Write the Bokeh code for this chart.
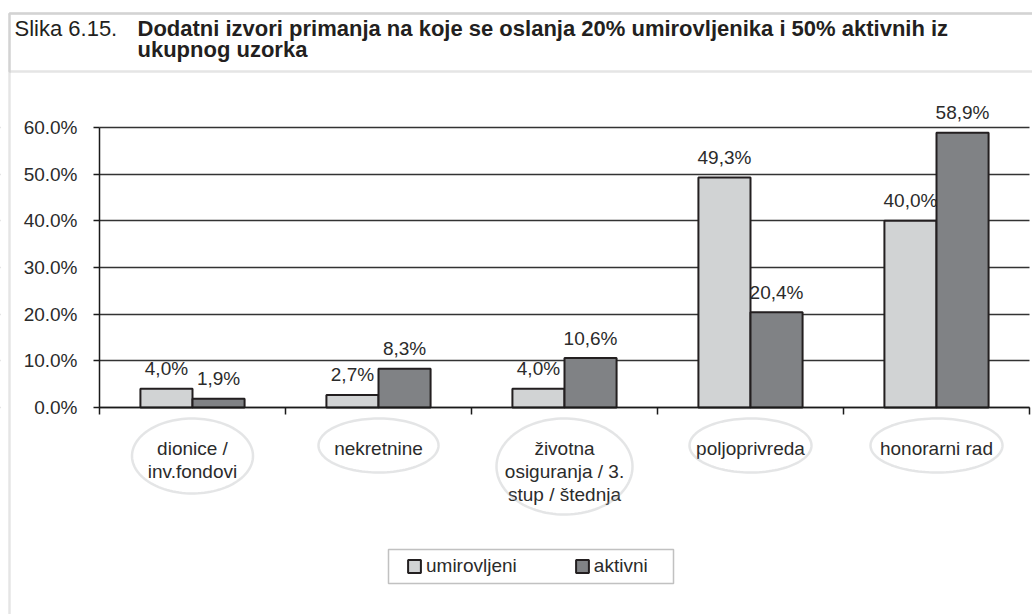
import numpy as np
from bokeh.plotting import figure
from bokeh.models import (Range1d, FixedTicker, CustomJSTickFormatter, BoxAnnotation,
                          ColumnDataSource, Label, PolyAnnotation, Legend, LegendItem)
from bokeh.transform import dodge
from bokeh.embed import file_html
from bokeh.resources import INLINE
from bokeh.core.properties import value

# ---------------- data ----------------
categories = ["dionice /\ninv.fondovi", "nekretnine", "životna\nosiguranja / 3.\nstup / štednja",
              "poljoprivreda", "honorarni rad"]
umirovljeni = [4.0, 2.7, 4.0, 49.3, 40.0]
aktivni = [1.9, 8.3, 10.6, 20.4, 58.9]
series_names = ["umirovljeni", "aktivni"]
y_ticks = [0, 10, 20, 30, 40, 50, 60]
title_prefix = "Slika 6.15."
title_lines = ["Dodatni izvori primanja na koje se oslanja 20% umirovljenika i 50% aktivnih iz",
               "ukupnog uzorka"]

# ---------------- layout constants (page pixels) ----------------
FONT = "Liberation Sans"
W, H = 1032, 614
F_LEFT, F_RIGHT = 99, 1029   # x pixel of the plot area left/right
F_ZERO, F_SIXTY = 407, 127   # y pixel of 0% and 60%
NC = len(categories)
PX = 60.0 / (F_ZERO - F_SIXTY)          # y data units per pixel
CAT_W = (F_RIGHT - F_LEFT) / NC          # pixels per category slot

def dx(px_x):   # page x -> x data (category slots 0..NC)
    return (px_x - F_LEFT) / CAT_W

def dy(px_y):   # page y -> y data
    return (F_ZERO - px_y) * PX

src = ColumnDataSource(dict(
    pos=[i + 0.5 for i in range(NC)],
    umirovljeni=umirovljeni,
    aktivni=aktivni,
    u_lbl=[f"{v:.1f}".replace(".", ",") + "%" for v in umirovljeni],
    a_lbl=[f"{v:.1f}".replace(".", ",") + "%" for v in aktivni],
))

p = figure(x_range=Range1d(dx(0), dx(W)), y_range=Range1d(dy(H), dy(0)),
           width=W, height=H, output_backend="svg", toolbar_location=None, min_border=0)
p.outline_line_color = None
p.background_fill_color = "white"
p.border_fill_color = "white"

# y axis (drawn at x = 0 of the category scale)
yt = FixedTicker(ticks=y_ticks, minor_ticks=[])
ya = p.yaxis[0]
ya.fixed_location = 0
ya.ticker = yt
ya.bounds = (0, 60)
ya.formatter = CustomJSTickFormatter(code="return tick.toFixed(1) + '%';")
ya.axis_line_color = "#1a1a1a"
ya.axis_line_width = 1.5
ya.major_tick_line_color = "#1a1a1a"
ya.major_tick_line_width = 1.5
ya.major_tick_out = 6
ya.major_tick_in = 0
ya.minor_tick_line_color = None
ya.major_label_standoff = 16
ya.major_label_text_font = FONT
ya.major_label_text_font_size = "19px"
ya.major_label_text_color = "#2b2b2b"

p.ygrid.ticker = yt
p.ygrid.grid_line_color = "#333333"
p.ygrid.grid_line_width = 1.3
p.xgrid.grid_line_color = None
# keep grid lines inside the plot area (white masks drawn right after the grid)
p.add_layout(BoxAnnotation(left=dx(-20), right=0, bottom=-1, top=61, fill_color="white", fill_alpha=1,
                           line_alpha=0, level="underlay"))
p.add_layout(BoxAnnotation(left=NC, right=dx(W + 20), bottom=-1, top=61, fill_color="white", fill_alpha=1,
                           line_alpha=0, level="underlay"))

# outer frame and title band (drawn after the masks)
BORDER = dict(fill_alpha=0, line_color="#a9a9a9", line_width=2.5, level="underlay")
p.add_layout(BoxAnnotation(left=dx(9), right=dx(1045), top=dy(13), bottom=dy(660), **BORDER))
p.add_layout(BoxAnnotation(left=dx(9), right=dx(1045), top=dy(13), bottom=dy(71), **BORDER))

# x axis: category names at slot centres, boundary ticks as minor ticks
xa = p.xaxis[0]
xa.fixed_location = 0
xa.bounds = (0, NC)
xa.ticker = FixedTicker(ticks=[i + 0.5 for i in range(NC)], minor_ticks=list(range(NC + 1)))
xa.major_label_overrides = {i + 0.5: c for i, c in enumerate(categories)}
xa.major_tick_out = 0
xa.major_tick_in = 0
xa.minor_tick_out = 7
xa.minor_tick_in = 0
xa.minor_tick_line_color = "#1a1a1a"
xa.minor_tick_line_width = 1.5
xa.axis_line_color = "#1a1a1a"
xa.axis_line_width = 1.5
xa.major_label_standoff = 23
xa.major_label_text_font = FONT
xa.major_label_text_font_size = "19px"
xa.major_label_text_color = "#2b2b2b"
xa.major_label_text_line_height = 1.1

# bars
BW, DG = 0.28, 0.14
r_u = p.vbar(x=dodge("pos", -DG), top="umirovljeni", width=BW, source=src,
             fill_color="#d1d3d4", line_color="#231f20", line_width=2)
r_a = p.vbar(x=dodge("pos", DG), top="aktivni", width=BW, source=src,
             fill_color="#808285", line_color="#231f20", line_width=2)

# value labels
for col, lbl, d in (("umirovljeni", "u_lbl", -DG), ("aktivni", "a_lbl", DG)):
    p.text(x=dodge("pos", d), y=col, text=lbl, source=src,
           text_align="center", text_baseline="alphabetic", y_offset=-20,
           text_font=value(FONT), text_font_size="19px", text_color="#2b2b2b")

# ellipses around category names
ell_w = [121, 120, 136, 122, 132]
LINE_H = 21
for i, (cat, ew) in enumerate(zip(categories, ell_w)):
    n = len(cat.split("\n"))
    eh = 33 + LINE_H * n
    cy_px = 418 + eh / 2
    t = np.linspace(0, 2 * np.pi, 120)
    xs = (i + 0.5) + (ew / 2) * np.cos(t) / CAT_W
    ys = dy(cy_px + (eh / 2) * np.sin(t))
    p.add_layout(PolyAnnotation(xs=list(xs), ys=list(ys), fill_alpha=0,
                                line_color="#a7a9ac", line_width=2.5))

p.add_layout(Label(x=dx(14), y=dy(28), text=title_prefix, text_align="left", text_baseline="alphabetic",
                   text_font=FONT, text_font_size="22px", text_color="#231f20"))
for k, tl in enumerate(title_lines):
    p.add_layout(Label(x=dx(137), y=dy(28 + 20.5 * k), text=tl, text_align="left",
                       text_baseline="alphabetic", text_font=FONT, text_font_style="bold",
                       text_font_size="22px", text_color="#231f20"))

# legend
LB_L, LB_R, LB_T, LB_B = 388, 673, 549, 583
p.add_layout(PolyAnnotation(xs=[dx(LB_L), dx(LB_R), dx(LB_R), dx(LB_L)],
                            ys=[dy(LB_T), dy(LB_T), dy(LB_B), dy(LB_B)],
                            fill_color="white", fill_alpha=1, line_color="#333333", line_width=1.5))
legend = Legend(items=[LegendItem(label=series_names[0], renderers=[r_u]),
                       LegendItem(label=series_names[1], renderers=[r_a])],
                orientation="horizontal", location=(406, H - 577),
                glyph_width=16, glyph_height=16, label_standoff=4, spacing=57, padding=0,
                label_height=16, label_text_font=FONT, label_text_font_size="19px",
                label_text_color="#2b2b2b", border_line_alpha=0, background_fill_alpha=0,
                margin=0)
p.add_layout(legend)

open("out.html", "w").write(file_html(p, INLINE))
